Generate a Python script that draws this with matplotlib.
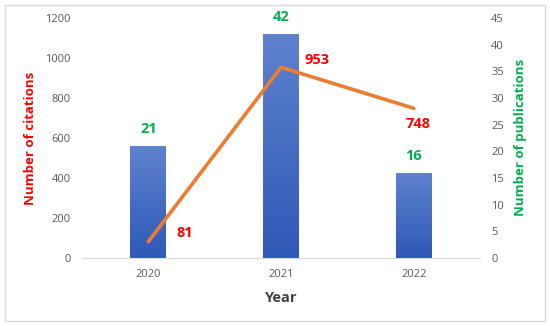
import matplotlib
matplotlib.use("Agg")
import matplotlib.pyplot as plt
import numpy as np
from matplotlib.patches import Rectangle
from matplotlib.colors import LinearSegmentedColormap

years = ["2020", "2021", "2022"]
publications = [21, 42, 16]
citations = [81, 953, 748]

plt.rcParams['font.family'] = ['Open Sans', 'DejaVu Sans']

fig = plt.figure(figsize=(5.5, 3.26), dpi=100)
fig.patches.append(Rectangle((0.009, 0.015), 0.982, 0.97, transform=fig.transFigure,
                             fill=False, edgecolor='#d9d9d9', lw=1.0))
ax = fig.add_axes([0.149, 0.209, 0.724, 0.736])
ax2 = ax.twinx()
x = np.arange(len(years))

# bars on primary axis (publications), ticks on right
bars = ax.bar(x, publications, width=0.27, color='none', edgecolor='none', zorder=2)
grad = np.linspace(0, 1, 256).reshape(-1, 1)
cmap = LinearSegmentedColormap.from_list('b', ['#2E59B6', '#5F82CE'])
for b in bars:
    x0, w, h = b.get_x(), b.get_width(), b.get_height()
    im = ax.imshow(grad, extent=[x0, x0 + w, 0, h], origin='lower', cmap=cmap,
                   aspect='auto', zorder=2)
    im.set_clip_path(b)
for xi, v in zip(x, publications):
    ax.annotate(str(v), (xi, v), xytext=(0, 12), textcoords='offset points',
                ha='center', va='center', color='#00B050', fontsize=10.5, fontweight='bold')
ax.set_xlim(-0.5, 2.5)
ax.set_ylim(0, 45)
ax.set_yticks(range(0, 46, 5))
ax.yaxis.tick_right()
ax.yaxis.set_label_position('right')
ax.set_ylabel('Number of publications', color='#00B050', fontsize=9.5, fontweight='bold', labelpad=7)

# line on twin axis (citations), ticks on left
ax2.plot(x, citations, color='#ED7D31', lw=2.6, solid_capstyle='round', zorder=3)
ax2.set_ylim(0, 1200)
ax2.set_yticks(range(0, 1201, 200))
ax2.yaxis.tick_left()
ax2.yaxis.set_label_position('left')
ax2.set_ylabel('Number of citations', color='#FF0000', fontsize=9.5, fontweight='bold', labelpad=6)
offsets = [(26, 6.5), (26, 5), (3, -11.5)]
for xi, v, off in zip(x, citations, offsets):
    ax2.annotate(str(v), (xi, v), xytext=off, textcoords='offset points',
                 ha='center', va='center', color='#FF0000', fontsize=10.5, fontweight='bold')

ax.set_xticks(x)
ax.set_xticklabels(years)
ax.set_xlabel('Year', color='#404040', fontsize=10.5, fontweight='bold', labelpad=8)

for a in (ax, ax2):
    for s in a.spines.values():
        s.set_visible(False)
    a.tick_params(length=0, labelsize=8, labelcolor='#595959', pad=8)
ax.tick_params(axis='x', pad=8)
ax.spines['bottom'].set_visible(True)
ax.spines['bottom'].set_color('#d9d9d9')

fig.savefig('out.png', dpi=100)
